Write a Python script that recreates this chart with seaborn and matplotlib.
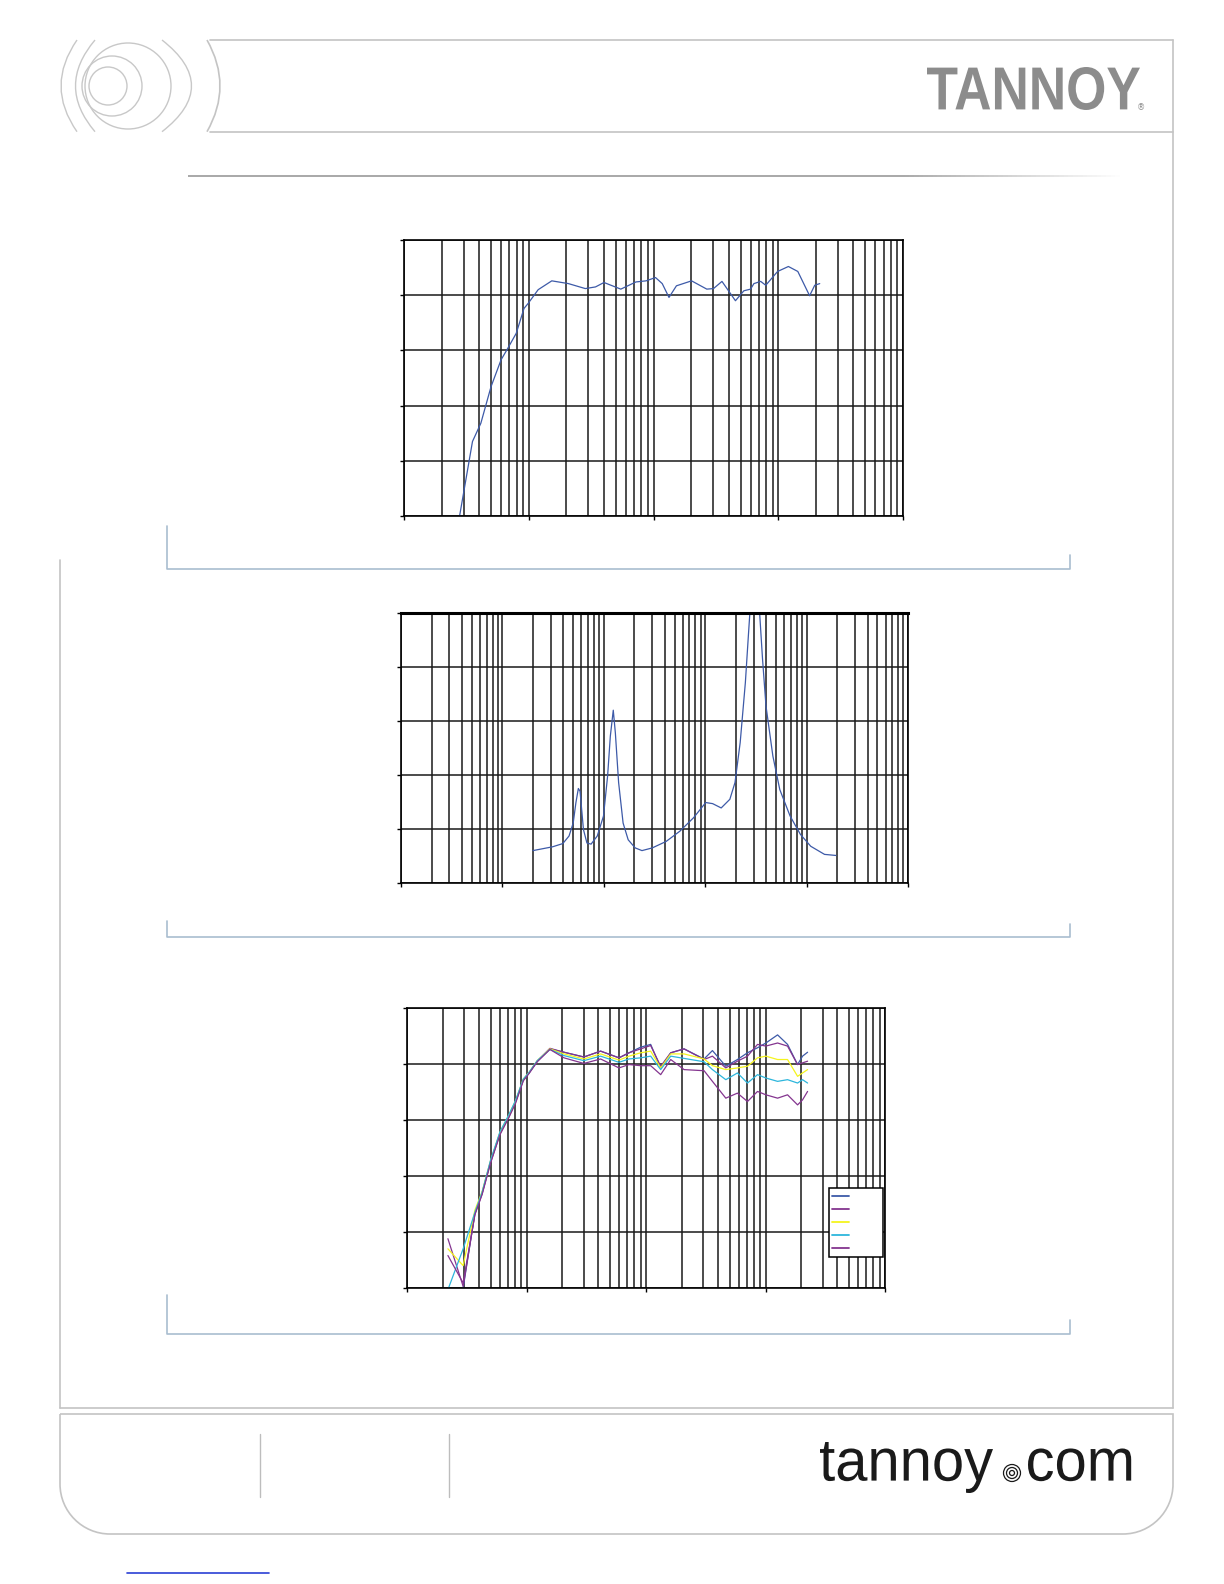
import numpy as np
import pandas as pd
import matplotlib
matplotlib.use("Agg")
import matplotlib.pyplot as plt
import seaborn as sns
import matplotlib.transforms as mtransforms
from matplotlib.path import Path
from matplotlib.patches import PathPatch, Circle
from matplotlib.textpath import TextPath
from matplotlib.font_manager import FontProperties
from matplotlib.ticker import LogLocator
from matplotlib.collections import LineCollection

# ---- data ----
# chart 1: on-axis frequency response (Hz, dB)
freq1 = [27.9, 35.4, 41.3, 49.8, 60, 68, 79.4, 91.6, 98.8, 119, 153, 208, 284, 343, 401,
         547, 723, 872, 1038, 1175, 1331, 1527, 2019, 2674, 3027, 3539, 4538, 5300, 6000,
         6380, 7230, 7940, 9880, 12060, 14350, 17840, 19600, 21500]
spl1 = [50, 63.5, 66.8, 73.4, 78.3, 80.4, 83.1, 87.6, 88.5, 91.0, 92.6, 92.1, 91.2, 91.5, 92.3,
        91.1, 92.4, 92.6, 93.2, 92.1, 89.6, 91.7, 92.6, 91.1, 91.2, 92.5, 89.0, 90.8, 91.1,
        92.1, 92.5, 91.8, 94.3, 95.2, 94.3, 89.9, 91.8, 92.1]

# chart 2: impedance (Hz, ohm)
freq2 = [20, 31.2, 39.4, 45.4, 49.9, 53.1, 56.1, 58.3, 63, 68.2, 74.9, 86.2, 99.3, 109, 116,
         124, 130, 140, 155, 174, 204, 238, 301, 412, 563, 769, 1012, 1183, 1438, 1750, 1967,
         2213, 2489, 2691, 3090, 3675, 3975, 4650, 5440, 6875, 8690, 10990, 15020, 19450]
imp2 = [6.0, 6.7, 7.3, 8.7, 11.1, 14.9, 17.5, 17.0, 9.9, 7.4, 7.2, 8.7, 12.4, 19.8, 27.2,
        32.0, 27.8, 18.6, 11.1, 8.0, 6.5, 6.0, 6.5, 7.7, 9.6, 12.1, 14.9, 14.7, 13.9, 15.5, 18.6,
        26.0, 37.1, 47.0, 64.0, 41.5, 32.8, 23.5, 17.3, 12.4, 9.0, 6.8, 5.3, 5.1]

# chart 3: off-axis responses (Hz, dB)
freq3 = [22, 29.5, 37, 42.5, 50, 60, 71, 81, 94, 105, 123, 157, 206, 302, 417, 594, 721, 902,
         1094, 1327, 1610, 2082, 3062, 3597, 4653, 5824, 7068, 8575, 10070, 12620, 15290,
         18550, 20420, 22500]
spl_a = [np.nan, 50.0, 63.4, 67.0, 72.6, 77.7, 80.7, 83.3, 87.2, 88.4, 90.5, 92.7, 92.1, 91.25,
         92.3, 91.1, 92.0, 93.0, 93.5, 89.3, 92.0, 92.7, 90.9, 92.4, 89.6, 90.8, 92.0, 92.9,
         93.75, 95.2, 93.5, 89.9, 91.4, 92.1]
spl_b = [58.8, 50.3, 63.2, 66.8, 72.4, 77.5, 80.5, 83.2, 87.1, 88.4, 90.5, 92.8, 92.1, 91.25,
         92.3, 91.1, 92.0, 92.7, 93.3, 89.6, 92.0, 92.7, 90.8, 91.4, 89.3, 90.5, 91.4, 93.5,
         93.2, 93.75, 93.2, 89.9, 90.2, 90.5]
spl_c = [57.0, 54.0, 63.9, 67.2, 72.7, 77.8, 80.8, 83.4, 87.3, 88.5, 90.6, 92.7, 91.8, 90.9,
         91.8, 90.7, 91.4, 92.0, 92.3, 89.3, 91.8, 91.8, 90.9, 89.7, 89.0, 89.3, 89.6, 91.1,
         91.4, 90.8, 90.8, 87.8, 88.4, 89.0]
spl_d = [49.7, 57.0, 63.5, 67.1, 72.8, 77.9, 80.9, 83.5, 87.3, 88.5, 90.6, 92.6, 91.5, 90.6,
         91.4, 90.3, 90.9, 91.1, 91.4, 89.0, 91.4, 91.0, 90.4, 89.0, 87.2, 88.4, 86.6, 88.1,
         87.5, 86.9, 87.2, 86.6, 87.2, 86.6]
spl_e = [55.8, 50.9, 63.1, 66.7, 72.3, 77.4, 80.4, 83.0, 87.0, 88.3, 90.4, 92.6, 91.1, 90.1,
         90.9, 89.3, 89.9, 89.7, 89.7, 88.1, 90.8, 89.0, 88.8, 86.9, 83.9, 84.8, 83.3, 85.1,
         84.5, 83.9, 84.5, 82.7, 83.6, 85.1]
series3 = ["a", "b", "c", "d", "e"]
colors3 = ["#3d5aa8", "#84358f", "#f4f41e", "#2db6dc", "#84358f"]

blue = "#3d5aa8"

df1 = pd.DataFrame({"freq": freq1, "spl": spl1})
df2 = pd.DataFrame({"freq": freq2, "imp": imp2})
df3 = pd.concat([pd.DataFrame({"freq": freq3, "spl": v, "s": k})
                 for k, v in zip(series3, [spl_a, spl_b, spl_c, spl_d, spl_e])]).dropna()

sns.set_style("white")

W, H = 1224, 1584
fig = plt.figure(figsize=(W / 100, H / 100), dpi=100)
deco = fig.add_axes([0, 0, 1, 1], zorder=0)
deco.set_xlim(0, W)
deco.set_ylim(H, 0)
deco.axis("off")


def px_axes(x0, y0, x1, y1):
    return fig.add_axes([x0 / W, 1 - y1 / H, (x1 - x0) / W, (y1 - y0) / H], zorder=2)


def style_chart(ax, xlo, xhi, ylo, yhi, ystep):
    ax.set_xscale("log")
    ax.set_xlim(xlo, xhi)
    ax.set_ylim(ylo, yhi)
    ax.set_yticks(np.arange(ylo, yhi + 1, ystep))
    ax.xaxis.set_major_locator(LogLocator(base=10))
    ax.xaxis.set_minor_locator(LogLocator(base=10, subs=np.arange(2, 10)))
    ax.grid(True, which="major", color="#1a1a1a", lw=1.1)
    ax.grid(True, which="minor", axis="x", color="#1a1a1a", lw=1.1)
    ax.tick_params(which="major", direction="out", length=3, width=1, color="k",
                   left=True, bottom=True, labelleft=False, labelbottom=False)
    ax.tick_params(which="minor", length=0)
    for s in ax.spines.values():
        s.set_color("k")
        s.set_linewidth(1.2)
    ax.set_xlabel("")
    ax.set_ylabel("")


# chart 1
ax1 = px_axes(404, 240, 903, 516)
sns.lineplot(data=df1, x="freq", y="spl", color=blue, lw=0.9, ax=ax1, estimator=None)
style_chart(ax1, 10, 100000, 50, 100, 10)

# chart 2
ax2 = px_axes(401, 613, 908, 883)
sns.lineplot(data=df2, x="freq", y="imp", color=blue, lw=0.9, ax=ax2, estimator=None)
style_chart(ax2, 1, 100000, 0, 50, 10)
ax2.spines["top"].set_linewidth(2.2)

# chart 3
ax3 = px_axes(407, 1008, 885, 1288)
sns.lineplot(data=df3, x="freq", y="spl", hue="s", palette=colors3, lw=0.9, ax=ax3,
             estimator=None, legend=False)
style_chart(ax3, 10, 100000, 50, 100, 10)
leg = ax3.legend(handles=ax3.get_lines()[:5], labels=[""] * 5, loc="upper left",
                 bbox_to_anchor=(829 / W, 1 - 1188 / H), bbox_transform=fig.transFigure,
                 frameon=True, fancybox=False, framealpha=1, edgecolor="k", fontsize=7,
                 handlelength=1.75, handletextpad=3.2, borderpad=0.3, labelspacing=0.33,
                 borderaxespad=0)
leg.get_frame().set_linewidth(1.1)
for h in leg.legend_handles:
    h.set_linewidth(1.3)

# ---- page decoration ----
frame_c = "#c4c4c4"
deco.plot([210, 1173], [40, 40], color=frame_c, lw=1.2)
deco.plot([210, 1173], [131.7, 131.7], color=frame_c, lw=1.2)
deco.plot([1173, 1173], [40, 1408], color=frame_c, lw=1.2)
deco.plot([60, 1173], [1408, 1408], color=frame_c, lw=1.2)
deco.plot([60, 60], [560, 1408], color=frame_c, lw=1.2)


def curve(p0, c, p1, color, lw=1.0):
    deco.add_patch(PathPatch(Path([p0, c, p1], [Path.MOVETO, Path.CURVE3, Path.CURVE3]),
                             fc="none", ec=color, lw=lw))


logo_c = "#c8c8c8"
curve((207, 40), (233, 86), (207, 131.7), frame_c, 1.2)
curve((77, 40), (45, 86), (77, 131.7), logo_c)
curve((95, 40), (56, 86), (95, 131.7), logo_c)
curve((162, 40), (221, 86), (162, 131.7), logo_c)
deco.add_patch(Circle((128, 86), 43, fc="none", ec=logo_c, lw=1.0))
deco.add_patch(Circle((112, 86), 30, fc="none", ec=logo_c, lw=1.0))
deco.add_patch(Circle((108, 86), 19, fc="none", ec=logo_c, lw=1.0))

# fading rule under header
xs = np.linspace(188, 1120, 200)
segs = [[(xs[i], 176), (xs[i + 1], 176)] for i in range(len(xs) - 1)]
alph = np.clip((1120 - xs[:-1]) / 220, 0, 1)
deco.add_collection(LineCollection(segs, colors=[(0.6, 0.6, 0.6, a) for a in alph], lw=1.2))

# section brackets
br_c = "#a9bdd0"
for top, rtop, bot in [(526, 555, 568.6), (921, 924, 937), (1295, 1320, 1334)]:
    deco.plot([166.6, 166.6, 1069.5, 1069.5], [top, bot, bot, rtop], color=br_c, lw=1.2)

# footer box with rounded bottom corners
r, k = 50, 0.5523
verts = [(60, 1414), (60, 1534 - r),
         (60, 1534 - r + k * r), (60 + r - k * r, 1534), (60 + r, 1534),
         (1173 - r, 1534),
         (1173 - r + k * r, 1534), (1173, 1534 - r + k * r), (1173, 1534 - r),
         (1173, 1414), (60, 1414)]
codes = [Path.MOVETO, Path.LINETO, Path.CURVE4, Path.CURVE4, Path.CURVE4, Path.LINETO,
         Path.CURVE4, Path.CURVE4, Path.CURVE4, Path.LINETO, Path.LINETO]
deco.add_patch(PathPatch(Path(verts, codes), fc="none", ec=frame_c, lw=1.2))
deco.plot([260, 260], [1434, 1497], color="#bdbdbd", lw=1.0)
deco.plot([449, 449], [1434, 1497], color="#bdbdbd", lw=1.0)
deco.plot([127, 269], [1573, 1573], color="#2b3fd4", lw=1.2)

# TANNOY logotype
bold = FontProperties(family="Liberation Sans", weight="bold")
tp = TextPath((0, 0), "TANNOY", size=100, prop=bold)
bb = tp.get_extents()
sx, sy = (1140 - 927) / bb.width, (110 - 67) / bb.height
tr = mtransforms.Affine2D().translate(-bb.x0, -bb.y0).scale(sx, -sy).translate(927, 110)
deco.add_patch(PathPatch(tr.transform_path(tp), fc="#8c8c8c", ec="none"))
deco.text(1141, 108, "®", fontsize=6, color="#8c8c8c", ha="center", va="center")

# tannoy.com
plain = FontProperties(family="Liberation Sans", weight="normal")
tp = TextPath((0, 0), "tannoy", size=100, prop=plain)
bb = tp.get_extents()
sx, sy = (993 - 820) / bb.width, (1493 - 1442) / bb.height
base = 1493 + bb.y0 * sy
tr = mtransforms.Affine2D().translate(-bb.x0, 0).scale(sx, -sy).translate(820, base)
deco.add_patch(PathPatch(tr.transform_path(tp), fc="#1a1a1a", ec="none"))
tp2 = TextPath((0, 0), "com", size=100, prop=plain)
bb2 = tp2.get_extents()
tr2 = mtransforms.Affine2D().translate(-bb2.x0, 0).scale(sx, -sy).translate(1028, base)
deco.add_patch(PathPatch(tr2.transform_path(tp2), fc="#1a1a1a", ec="none"))
for rr in [8.5, 5.5, 2.5]:
    deco.add_patch(Circle((1012, 1473), rr, fc="none", ec="#1a1a1a", lw=0.9))

fig.savefig("out.png", dpi=100, facecolor="white")
